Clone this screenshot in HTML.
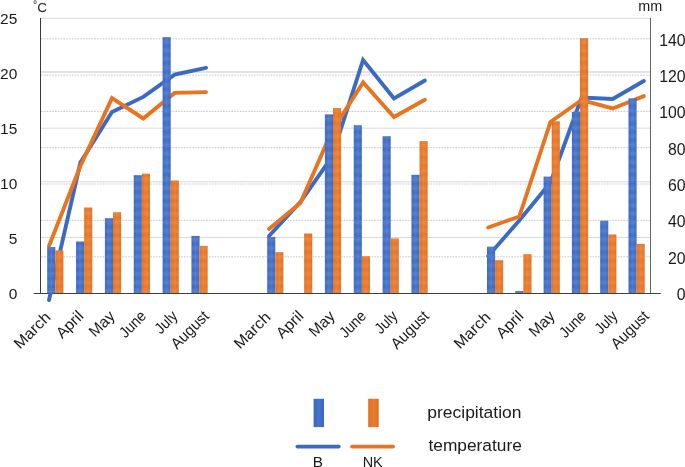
<!DOCTYPE html>
<html><head><meta charset="utf-8"><title>chart</title>
<style>
html,body{margin:0;padding:0;background:#fff;}
body{width:685px;height:467px;overflow:hidden;}
svg{display:block;}
text{font-family:"Liberation Sans",sans-serif;fill:#1a1a1a;}
</style></head><body>
<svg width="685" height="467" viewBox="0 0 685 467">
<defs>
<linearGradient id="gb" x1="0" x2="1" y1="0" y2="0"><stop offset="0" stop-color="#3a66bc"/><stop offset="0.5" stop-color="#4574ce"/><stop offset="1" stop-color="#3a66bc"/></linearGradient>
<linearGradient id="go" x1="0" x2="1" y1="0" y2="0"><stop offset="0" stop-color="#e07020"/><stop offset="0.5" stop-color="#ec7b2e"/><stop offset="1" stop-color="#e07020"/></linearGradient>
<linearGradient id="band" x1="0" x2="0" y1="0" y2="1"><stop offset="0" stop-color="#fff" stop-opacity="0"/><stop offset="0.5" stop-color="#fff" stop-opacity="0.10"/><stop offset="1" stop-color="#fff" stop-opacity="0"/></linearGradient>
<pattern id="bands" patternUnits="userSpaceOnUse" x="0" y="3" width="700" height="8.6"><rect width="700" height="8.6" fill="url(#band)"/></pattern>
<filter id="nf" filterUnits="userSpaceOnUse" x="0" y="0" width="685" height="467" color-interpolation-filters="sRGB"><feOffset dx="0" dy="0"/></filter>
</defs>
<rect width="685" height="467" fill="#fff"/>
<line x1="41" x2="650.5" y1="18.4" y2="18.4" stroke="#d9d9d9" stroke-width="1"/>
<line x1="41" x2="650.5" y1="72.0" y2="72.0" stroke="#d9d9d9" stroke-width="1.5"/>
<line x1="41" x2="650.5" y1="128.2" y2="128.2" stroke="#d9d9d9" stroke-width="1"/>
<line x1="41" x2="650.5" y1="181.8" y2="181.8" stroke="#d9d9d9" stroke-width="1"/>
<line x1="41" x2="650.5" y1="237.5" y2="237.5" stroke="#d9d9d9" stroke-width="1"/>
<line x1="41" x2="650.5" y1="38.8" y2="38.8" stroke="#c9c9c9" stroke-width="1" stroke-dasharray="1.7 1.1"/>
<line x1="41" x2="650.5" y1="75.1" y2="75.1" stroke="#c9c9c9" stroke-width="1" stroke-dasharray="1.7 1.1"/>
<line x1="41" x2="650.5" y1="111.4" y2="111.4" stroke="#c9c9c9" stroke-width="1" stroke-dasharray="1.7 1.1"/>
<line x1="41" x2="650.5" y1="147.6" y2="147.6" stroke="#c9c9c9" stroke-width="1" stroke-dasharray="1.7 1.1"/>
<line x1="41" x2="650.5" y1="184.0" y2="184.0" stroke="#c9c9c9" stroke-width="1" stroke-dasharray="1.7 1.1"/>
<line x1="41" x2="650.5" y1="220.4" y2="220.4" stroke="#c9c9c9" stroke-width="1" stroke-dasharray="1.7 1.1"/>
<line x1="41" x2="650.5" y1="256.8" y2="256.8" stroke="#c9c9c9" stroke-width="1" stroke-dasharray="1.7 1.1"/>
<line x1="40.5" x2="40.5" y1="18" y2="293.0" stroke="#3a3a3a" stroke-width="1"/>
<line x1="650.5" x2="650.5" y1="18" y2="293.0" stroke="#666666" stroke-width="1"/>
<line x1="33.7" x2="660.8" y1="293.5" y2="293.5" stroke="#404040" stroke-width="1.1"/>
<polyline points="49.0,300 80.4,162.5 112.0,112 143.3,96.9 174.6,74.6 206.0,67.8" fill="none" stroke="#3b6ac3" stroke-width="3.9" stroke-linecap="round" stroke-linejoin="miter"/>
<polyline points="49.0,246 80.4,166 112.0,98.2 143.3,118.5 174.6,92.9 206.0,92.1" fill="none" stroke="#e97420" stroke-width="3.9" stroke-linecap="round" stroke-linejoin="miter"/>
<polyline points="269.0,236 300.4,202 331.8,157 363.1,60 394.0,98.5 424.9,80.5" fill="none" stroke="#3b6ac3" stroke-width="3.9" stroke-linecap="round" stroke-linejoin="miter"/>
<polyline points="269.0,229 300.4,203 331.8,131.5 363.1,82.5 394.0,117 424.9,99.7" fill="none" stroke="#e97420" stroke-width="3.9" stroke-linecap="round" stroke-linejoin="miter"/>
<polyline points="488.2,256 519.3,220.5 550.5,182.5 581.6,97.5 612.7,99 643.8,81" fill="none" stroke="#3b6ac3" stroke-width="3.9" stroke-linecap="round" stroke-linejoin="miter"/>
<polyline points="488.2,227.5 519.3,216.5 550.5,122 581.6,100 612.7,108.5 643.8,96.1" fill="none" stroke="#e97420" stroke-width="3.9" stroke-linecap="round" stroke-linejoin="miter"/>
<rect x="47.20" y="247" width="8.1" height="46.0" fill="url(#gb)"/>
<rect x="47.20" y="247" width="8.1" height="46.0" fill="url(#bands)"/>
<rect x="55.30" y="250.4" width="8.1" height="42.6" fill="url(#go)"/>
<rect x="55.30" y="250.4" width="8.1" height="42.6" fill="url(#bands)"/>
<rect x="76.05" y="241.5" width="8.1" height="51.5" fill="url(#gb)"/>
<rect x="76.05" y="241.5" width="8.1" height="51.5" fill="url(#bands)"/>
<rect x="84.15" y="207.5" width="8.1" height="85.5" fill="url(#go)"/>
<rect x="84.15" y="207.5" width="8.1" height="85.5" fill="url(#bands)"/>
<rect x="104.90" y="218.2" width="8.1" height="74.8" fill="url(#gb)"/>
<rect x="104.90" y="218.2" width="8.1" height="74.8" fill="url(#bands)"/>
<rect x="113.00" y="212.2" width="8.1" height="80.8" fill="url(#go)"/>
<rect x="113.00" y="212.2" width="8.1" height="80.8" fill="url(#bands)"/>
<rect x="133.75" y="175.2" width="8.1" height="117.8" fill="url(#gb)"/>
<rect x="133.75" y="175.2" width="8.1" height="117.8" fill="url(#bands)"/>
<rect x="141.85" y="173.7" width="8.1" height="119.3" fill="url(#go)"/>
<rect x="141.85" y="173.7" width="8.1" height="119.3" fill="url(#bands)"/>
<rect x="162.60" y="37.2" width="8.1" height="255.8" fill="url(#gb)"/>
<rect x="162.60" y="37.2" width="8.1" height="255.8" fill="url(#bands)"/>
<rect x="170.70" y="180.5" width="8.1" height="112.5" fill="url(#go)"/>
<rect x="170.70" y="180.5" width="8.1" height="112.5" fill="url(#bands)"/>
<rect x="191.45" y="235.9" width="8.1" height="57.1" fill="url(#gb)"/>
<rect x="191.45" y="235.9" width="8.1" height="57.1" fill="url(#bands)"/>
<rect x="199.55" y="245.9" width="8.1" height="47.1" fill="url(#go)"/>
<rect x="199.55" y="245.9" width="8.1" height="47.1" fill="url(#bands)"/>
<rect x="267.20" y="236.9" width="8.1" height="56.1" fill="url(#gb)"/>
<rect x="267.20" y="236.9" width="8.1" height="56.1" fill="url(#bands)"/>
<rect x="275.30" y="252.2" width="8.1" height="40.8" fill="url(#go)"/>
<rect x="275.30" y="252.2" width="8.1" height="40.8" fill="url(#bands)"/>
<rect x="304.15" y="233.5" width="8.1" height="59.5" fill="url(#go)"/>
<rect x="304.15" y="233.5" width="8.1" height="59.5" fill="url(#bands)"/>
<rect x="324.90" y="114.4" width="8.1" height="178.6" fill="url(#gb)"/>
<rect x="324.90" y="114.4" width="8.1" height="178.6" fill="url(#bands)"/>
<rect x="333.00" y="108.1" width="8.1" height="184.9" fill="url(#go)"/>
<rect x="333.00" y="108.1" width="8.1" height="184.9" fill="url(#bands)"/>
<rect x="353.75" y="125.2" width="8.1" height="167.8" fill="url(#gb)"/>
<rect x="353.75" y="125.2" width="8.1" height="167.8" fill="url(#bands)"/>
<rect x="361.85" y="256.2" width="8.1" height="36.8" fill="url(#go)"/>
<rect x="361.85" y="256.2" width="8.1" height="36.8" fill="url(#bands)"/>
<rect x="382.60" y="136.2" width="8.1" height="156.8" fill="url(#gb)"/>
<rect x="382.60" y="136.2" width="8.1" height="156.8" fill="url(#bands)"/>
<rect x="390.70" y="238.4" width="8.1" height="54.6" fill="url(#go)"/>
<rect x="390.70" y="238.4" width="8.1" height="54.6" fill="url(#bands)"/>
<rect x="411.45" y="174.8" width="8.1" height="118.2" fill="url(#gb)"/>
<rect x="411.45" y="174.8" width="8.1" height="118.2" fill="url(#bands)"/>
<rect x="419.55" y="141.2" width="8.1" height="151.8" fill="url(#go)"/>
<rect x="419.55" y="141.2" width="8.1" height="151.8" fill="url(#bands)"/>
<rect x="487.00" y="246.7" width="8.1" height="46.3" fill="url(#gb)"/>
<rect x="487.00" y="246.7" width="8.1" height="46.3" fill="url(#bands)"/>
<rect x="495.10" y="260.2" width="8.1" height="32.8" fill="url(#go)"/>
<rect x="495.10" y="260.2" width="8.1" height="32.8" fill="url(#bands)"/>
<rect x="515.30" y="291" width="8.1" height="2.0" fill="url(#gb)"/>
<rect x="515.30" y="291" width="8.1" height="2.0" fill="url(#bands)"/>
<rect x="523.40" y="254.2" width="8.1" height="38.8" fill="url(#go)"/>
<rect x="523.40" y="254.2" width="8.1" height="38.8" fill="url(#bands)"/>
<rect x="543.60" y="176.6" width="8.1" height="116.4" fill="url(#gb)"/>
<rect x="543.60" y="176.6" width="8.1" height="116.4" fill="url(#bands)"/>
<rect x="551.70" y="121.3" width="8.1" height="171.7" fill="url(#go)"/>
<rect x="551.70" y="121.3" width="8.1" height="171.7" fill="url(#bands)"/>
<rect x="571.90" y="111.8" width="8.1" height="181.2" fill="url(#gb)"/>
<rect x="571.90" y="111.8" width="8.1" height="181.2" fill="url(#bands)"/>
<rect x="580.00" y="38.2" width="8.1" height="254.8" fill="url(#go)"/>
<rect x="580.00" y="38.2" width="8.1" height="254.8" fill="url(#bands)"/>
<rect x="600.20" y="220.7" width="8.1" height="72.3" fill="url(#gb)"/>
<rect x="600.20" y="220.7" width="8.1" height="72.3" fill="url(#bands)"/>
<rect x="608.30" y="234.5" width="8.1" height="58.5" fill="url(#go)"/>
<rect x="608.30" y="234.5" width="8.1" height="58.5" fill="url(#bands)"/>
<rect x="628.50" y="98.4" width="8.1" height="194.6" fill="url(#gb)"/>
<rect x="628.50" y="98.4" width="8.1" height="194.6" fill="url(#bands)"/>
<rect x="636.60" y="243.9" width="8.1" height="49.1" fill="url(#go)"/>
<rect x="636.60" y="243.9" width="8.1" height="49.1" fill="url(#bands)"/>
<g filter="url(#nf)">
<text x="17.3" y="23.7" font-size="15.5" text-anchor="end">25</text>
<text x="17.3" y="78.7" font-size="15.5" text-anchor="end">20</text>
<text x="17.3" y="133.7" font-size="15.5" text-anchor="end">15</text>
<text x="17.3" y="188.7" font-size="15.5" text-anchor="end">10</text>
<text x="17.3" y="243.7" font-size="15.5" text-anchor="end">5</text>
<text x="17.3" y="298.7" font-size="15.5" text-anchor="end">0</text>
<text x="685.6" y="45.7" font-size="15.8" text-anchor="end">140</text>
<text x="685.6" y="82.0" font-size="15.8" text-anchor="end">120</text>
<text x="685.6" y="118.3" font-size="15.8" text-anchor="end">100</text>
<text x="685.6" y="154.6" font-size="15.8" text-anchor="end">80</text>
<text x="685.6" y="190.9" font-size="15.8" text-anchor="end">60</text>
<text x="685.6" y="227.2" font-size="15.8" text-anchor="end">40</text>
<text x="685.6" y="263.5" font-size="15.8" text-anchor="end">20</text>
<text x="685.6" y="299.8" font-size="15.8" text-anchor="end">0</text>
<text x="33.0" y="7.8" font-size="10.5">°</text><text x="37.3" y="11.6" font-size="13.6">C</text>
<text x="638.3" y="10.6" font-size="14.4">mm</text>
<text transform="translate(51.5,318.3) rotate(-45)" font-size="15.5" text-anchor="end" textLength="44.6" lengthAdjust="spacingAndGlyphs">March</text>
<text transform="translate(84.4,317.0) rotate(-45)" font-size="15.5" text-anchor="end" textLength="31.5" lengthAdjust="spacingAndGlyphs">April</text>
<text transform="translate(115.8,317.0) rotate(-45)" font-size="15.5" text-anchor="end" textLength="29.5" lengthAdjust="spacingAndGlyphs">May</text>
<text transform="translate(147.2,317.0) rotate(-45)" font-size="15.5" text-anchor="end" textLength="30.8" lengthAdjust="spacingAndGlyphs">June</text>
<text transform="translate(178.6,317.0) rotate(-45)" font-size="15.5" text-anchor="end" textLength="25.2" lengthAdjust="spacingAndGlyphs">July</text>
<text transform="translate(210.0,317.0) rotate(-45)" font-size="15.5" text-anchor="end" textLength="46.6" lengthAdjust="spacingAndGlyphs">August</text>
<text transform="translate(271.5,318.3) rotate(-45)" font-size="15.5" text-anchor="end" textLength="44.6" lengthAdjust="spacingAndGlyphs">March</text>
<text transform="translate(304.4,317.0) rotate(-45)" font-size="15.5" text-anchor="end" textLength="31.5" lengthAdjust="spacingAndGlyphs">April</text>
<text transform="translate(335.8,317.0) rotate(-45)" font-size="15.5" text-anchor="end" textLength="29.5" lengthAdjust="spacingAndGlyphs">May</text>
<text transform="translate(367.2,317.0) rotate(-45)" font-size="15.5" text-anchor="end" textLength="30.8" lengthAdjust="spacingAndGlyphs">June</text>
<text transform="translate(398.6,317.0) rotate(-45)" font-size="15.5" text-anchor="end" textLength="25.2" lengthAdjust="spacingAndGlyphs">July</text>
<text transform="translate(430.0,317.0) rotate(-45)" font-size="15.5" text-anchor="end" textLength="46.6" lengthAdjust="spacingAndGlyphs">August</text>
<text transform="translate(491.5,318.3) rotate(-45)" font-size="15.5" text-anchor="end" textLength="44.6" lengthAdjust="spacingAndGlyphs">March</text>
<text transform="translate(524.4,317.0) rotate(-45)" font-size="15.5" text-anchor="end" textLength="31.5" lengthAdjust="spacingAndGlyphs">April</text>
<text transform="translate(555.8,317.0) rotate(-45)" font-size="15.5" text-anchor="end" textLength="29.5" lengthAdjust="spacingAndGlyphs">May</text>
<text transform="translate(587.2,317.0) rotate(-45)" font-size="15.5" text-anchor="end" textLength="30.8" lengthAdjust="spacingAndGlyphs">June</text>
<text transform="translate(618.6,317.0) rotate(-45)" font-size="15.5" text-anchor="end" textLength="25.2" lengthAdjust="spacingAndGlyphs">July</text>
<text transform="translate(650.0,317.0) rotate(-45)" font-size="15.5" text-anchor="end" textLength="46.6" lengthAdjust="spacingAndGlyphs">August</text>
<rect x="313.6" y="398.8" width="10.4" height="28.3" fill="url(#gb)"/>
<rect x="368.2" y="398.8" width="10.5" height="28.3" fill="url(#go)"/>
<line x1="297.3" x2="338.9" y1="446.6" y2="446.6" stroke="#3b6ac3" stroke-width="3.6" stroke-linecap="round"/>
<line x1="352" x2="393.2" y1="446.6" y2="446.6" stroke="#e97420" stroke-width="3.6" stroke-linecap="round"/>
<text x="317.9" y="467" font-size="15.3" text-anchor="middle">B</text>
<text x="372.7" y="467" font-size="15.3" text-anchor="middle" textLength="20" lengthAdjust="spacingAndGlyphs">NK</text>
<text x="427.3" y="417.8" font-size="17.2" textLength="94.2" lengthAdjust="spacingAndGlyphs">precipitation</text>
<text x="428.5" y="451.1" font-size="17.2" textLength="93.3" lengthAdjust="spacingAndGlyphs">temperature</text>
</g>
</svg>
</body></html>
